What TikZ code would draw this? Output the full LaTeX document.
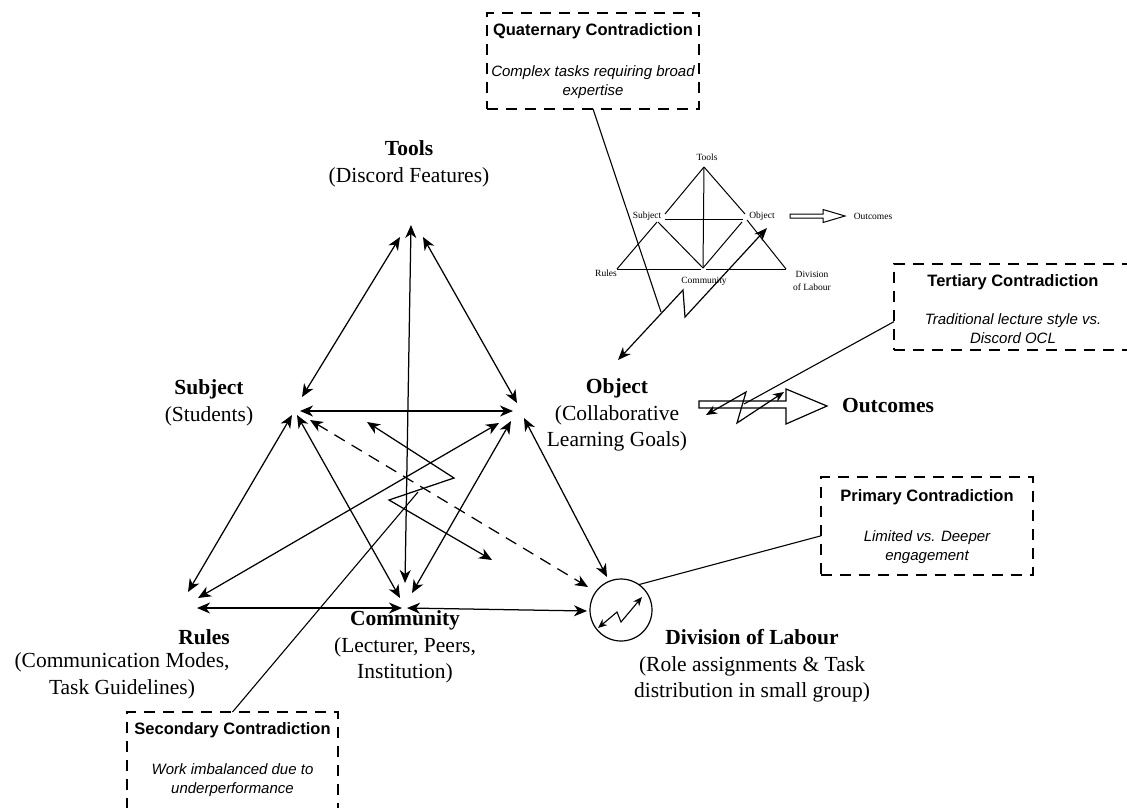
\documentclass[tikz,border=0pt]{standalone}
\usepackage{fontspec}
\setmainfont{Liberation Serif}
\setsansfont{Liberation Sans}
\usetikzlibrary{arrows.meta,calc}

\begin{document}
\begin{tikzpicture}[x=1pt,y=-1pt,
  every node/.style={inner sep=0pt,outer sep=0pt},
  >={Stealth[length=13pt,width=11pt,inset=4pt]},
  link/.style={line width=1.25pt,<->},
  dlink/.style={link,dash pattern=on 12pt off 8pt},
  minibolt/.style={line width=1.1pt,{Stealth[length=9pt,width=7.5pt]}-{Stealth[length=9pt,width=7.5pt]}},
  thin/.style={line width=1pt},
  pointer/.style={line width=1.1pt},
  lbl/.style={align=center,font=\fontsize{21.5}{26.5}\selectfont},
  tiny/.style={font=\fontsize{9.5}{13}\selectfont,align=center},
  frame/.style={draw,line width=1.1pt,dash pattern=on 11pt off 8pt},
  boxtitle/.style={font=\sffamily\bfseries\fontsize{16.5}{19}\selectfont},
  boxbody/.style={font=\sffamily\itshape\fontsize{15}{19}\selectfont,align=center},
  hollow/.style={line width=1.2pt,fill=white}
]
\clip (0,0) rectangle (1127,807);
\fill[white] (0,0) rectangle (1127,807);

% ---------- main activity system: labels ----------
\node[lbl] (tools) at (409,164) {\textbf{Tools}\\(Discord Features)};
\node[lbl] (subject) at (209,403) {\textbf{Subject}\\(Students)};
\node[lbl] (object) at (617,415) {\textbf{Object}\\(Collaborative\\Learning Goals)};
\node[lbl,font=\bfseries\fontsize{21.5}{26.5}\selectfont] (rules) at (204,637) {Rules};
\node[lbl] (rules-d) at (122,676) {(Communication Modes,\\Task Guidelines)};
\node[lbl] (community) at (405,647) {\textbf{Community}\\(Lecturer, Peers,\\Institution)};
\node[lbl] (division) at (752,666) {\textbf{Division of Labour}\\(Role assignments \& Task\\distribution in small group)};
\node[font=\bfseries\fontsize{21.5}{26}\selectfont] (outcomes) at (888,406) {Outcomes};

% ---------- arrow end points around each corner ----------
\coordinate (T-S) at (400,237); \coordinate (T-C) at (411,225); \coordinate (T-O) at (423,237);
\coordinate (S-T) at (302,397); \coordinate (S-O) at (300,411); \coordinate (S-R) at (292,415);
\coordinate (S-C) at (297,415); \coordinate (S-D) at (310,420);
\coordinate (O-T) at (517,403); \coordinate (O-S) at (513,411); \coordinate (O-R) at (499,423);
\coordinate (O-C) at (511,421); \coordinate (O-D) at (524,418);
\coordinate (R-S) at (188,592); \coordinate (R-O) at (198,598); \coordinate (R-C) at (197,608);
\coordinate (C-T) at (405,583); \coordinate (C-S) at (400,598); \coordinate (C-O) at (412,593);
\coordinate (C-R) at (402,608); \coordinate (C-D) at (407,608);
\coordinate (D-S) at (588,587); \coordinate (D-O) at (607,577); \coordinate (D-C) at (587,611);

% ---------- relations ----------
\draw[link] (T-S) -- (S-T);
\draw[link] (T-O) -- (O-T);
\draw[link] (T-C) -- (C-T);
\draw[link] (S-O) -- (O-S);
\draw[link] (S-R) -- (R-S);
\draw[link] (S-C) -- (C-S);
\draw[dlink] (S-D) -- (D-S);
\draw[link] (O-R) -- (R-O);
\draw[link] (O-C) -- (C-O);
\draw[link] (O-D) -- (D-O);
\draw[link] (R-C) -- (C-R);
\draw[link] (C-D) -- (D-C);

% contradiction bolt between subject and division of labour
\coordinate (zA) at (367,422); \coordinate (zB) at (454,478);
\coordinate (zC) at (389,500); \coordinate (zD) at (492,560);
\draw[link] (zA) -- (zB) -- (zC) -- (zD);
\coordinate (zS) at (418,492);

% division of labour circle with inner bolt
\node[draw,circle,line width=1.2pt,minimum size=62pt] (dl) at (621,610) {};
\coordinate (cA) at (598,628); \coordinate (cB) at (617,612);
\coordinate (cC) at (621,622); \coordinate (cD) at (642,597);
\draw[minibolt] (cA) -- (cB) -- (cC) -- (cD);

% ---------- object to outcomes ----------
\draw[hollow] (699,401) -- (786,401) -- (786,389) -- (827,406) -- (786,424)
  -- (786,408) -- (699,408) -- cycle;
\coordinate (oA) at (706,415); \coordinate (oB) at (746,392);
\coordinate (oC) at (737,423); \coordinate (oD) at (784,392);
\draw[line width=1.2pt,{Stealth[length=11pt,width=9pt]}-{Stealth[length=11pt,width=9pt]}]
  (oA) -- (oB) -- (oC) -- (oD);
\coordinate (oT) at (744,404);

% ---------- small reference triangle ----------
\node[tiny] (mtools) at (707,157) {Tools};
\node[tiny] (msubject) at (647,216) {Subject};
\node[tiny] (mobject) at (762,216) {Object};
\node[tiny] (moutcomes) at (873,216) {Outcomes};
\node[tiny] (mrules) at (606,273) {Rules};
\node[tiny] (mcommunity) at (704,281) {Community};
\node[tiny] (mdivision) at (812,281) {Division\\of Labour};
\coordinate (m-T) at (704,167);
\coordinate (m-ST) at (665,214); \coordinate (m-SR) at (657,222);
\coordinate (m-SO) at (665,219); \coordinate (m-SC) at (658,222);
\coordinate (m-OT) at (745,214); \coordinate (m-OD) at (747,220);
\coordinate (m-OS) at (743,219); \coordinate (m-OC) at (742,222);
\coordinate (m-R) at (617,269); \coordinate (m-CL) at (701,269);
\coordinate (m-CR) at (706,269); \coordinate (m-C) at (703,268);
\coordinate (m-D) at (786,269);
\draw[thin] (m-T) -- (m-ST);
\draw[thin] (m-SR) -- (m-R);
\draw[thin] (m-T) -- (m-OT);
\draw[thin] (m-OD) -- (m-D);
\draw[thin] (m-SO) -- (m-OS);
\draw[thin] (m-T) -- (m-C);
\draw[thin] (m-SC) -- (m-C);
\draw[thin] (m-OC) -- (m-C);
\draw[thin] (m-R) -- (m-CL);
\draw[thin] (m-CR) -- (m-D);
\draw[line width=1pt,fill=white] (790,214) -- (823,214) -- (823,209.5) -- (845,216)
  -- (823,222.5) -- (823,218) -- (790,218) -- cycle;

% bolt from the small triangle's object to the main object
\coordinate (bA) at (618,360); \coordinate (bB) at (683,290);
\coordinate (bC) at (685,317); \coordinate (bD) at (767,228);
\draw[line width=1.2pt,{Stealth[length=13pt,width=10.5pt]}-{Stealth[length=13pt,width=10.5pt]}]
  (bA) -- (bB) -- (bC) -- (bD);
\coordinate (bQ) at (661,312);

% ---------- contradiction boxes ----------
\node[frame,minimum width=212pt,minimum height=96pt] (quat) at (593,61) {};
\node[boxtitle] (quat-t) at (593,31) {Quaternary Contradiction};
\node[boxbody] (quat-b) at (593,82.5) {Complex tasks requiring broad\\expertise};

\node[frame,minimum width=238pt,minimum height=86pt] (tert) at (1013,307) {};
\node[boxtitle] (tert-t) at (1013,282) {Tertiary Contradiction};
\node[boxbody] (tert-b) at (1013,329) {Traditional lecture style vs.\\Discord OCL};

\node[frame,minimum width=212pt,minimum height=98pt] (prim) at (927,526) {};
\node[boxtitle] (prim-t) at (927,497) {Primary Contradiction};
\node[boxbody] (prim-b) at (927,547.5) {Limited vs. Deeper\\engagement};

\node[frame,minimum width=211pt,minimum height=100pt] (sec) at (232.5,762) {};
\node[boxtitle] (sec-t) at (232.5,730) {Secondary Contradiction};
\node[boxbody] (sec-b) at (232.5,780.5) {Work imbalanced due to\\underperformance};

% ---------- box pointers ----------
\draw[pointer] (quat.south) -- (bQ);
\draw[pointer] ($(tert.north west)!0.67!(tert.south west)$) -- (oT);
\draw[pointer] ($(prim.north west)!0.6!(prim.south west)$) -- (dl.55);
\draw[pointer] (sec.north) -- (zS);
\end{tikzpicture}
\end{document}
